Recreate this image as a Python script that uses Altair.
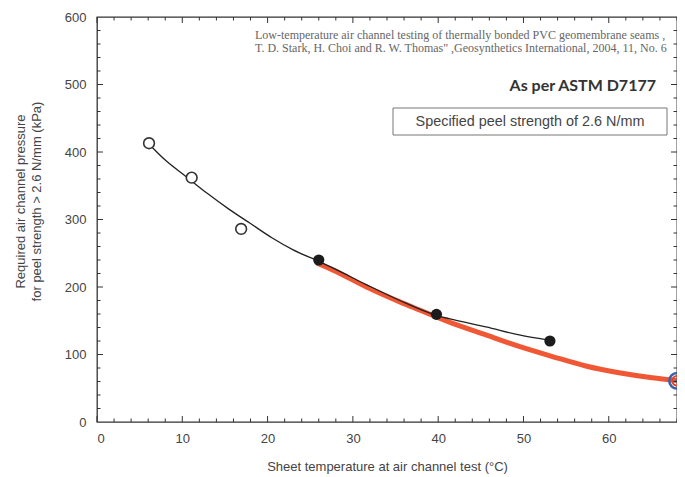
import altair as alt
import pandas as pd

# ---- data ----
open_x = [6.1, 11.1, 16.9]
open_y = [413, 362, 286]
filled_x = [26.0, 39.8, 53.1]
filled_y = [240, 159.5, 120]
astm_x = [68.0]
astm_y = [61]

black_x = [6, 8, 10.5, 13, 15.5, 18, 20.5, 23, 26, 28, 31.5, 35.5, 39.8, 42, 45.6, 49.5, 53.1]
black_y = [413, 388, 363, 338, 315, 294, 273, 255, 238, 226, 204, 180, 158, 151, 141, 129, 121]

red_x = [25.9, 27.7, 31.6, 35.5, 37.8, 41.7, 45.6, 49.5, 53.4, 57.3, 61.2, 65.1, 68.0]
red_y = [235, 225, 200, 178, 166, 146, 129, 112, 97, 83, 73, 65.6, 61.5]

x_major = [0, 10, 20, 30, 40, 50, 60]
x_minor = [v for v in range(0, 69, 2) if v % 10]
y_major = [100, 200, 300, 400, 500]
y_minor = [v for v in range(0, 601, 20) if v % 100]

x_title = "Sheet temperature at air channel test (°C)"
y_title = ["Required air channel pressure", "for peel strength > 2.6 N/mm (kPa)"]
cite_1 = "Low-temperature air channel testing of thermally bonded PVC geomembrane seams ,"
cite_2 = "T. D. Stark, H. Choi and R. W. Thomas\" ,Geosynthetics International, 2004, 11, No. 6"
astm_text = "As per ASTM D7177"
box_text = "Specified peel strength of 2.6 N/mm"

FONT = "Liberation Sans"
W, H = 580, 405
XS = alt.Scale(domain=[0, 68], nice=False, zero=False)
YS = alt.Scale(domain=[0, 600], nice=False, zero=False)

x_lab = alt.Axis(orient="bottom", title=x_title, values=x_major, ticks=False,
                 domain=False, grid=False, labelPadding=10, labelFont=FONT,
                 labelFontSize=13, labelColor="#444", titleFont=FONT,
                 titleFontSize=13, titleColor="#444", titleFontWeight="normal",
                 titleY=44, titleBaseline="middle")
y_lab = alt.Axis(orient="left", title=y_title, values=[0] + y_major + [600], ticks=False,
                 domain=False, grid=False, labelPadding=11, labelFont=FONT,
                 labelFontSize=13, labelColor="#444", titleFont=FONT,
                 titleFontSize=13, titleColor="#444", titleFontWeight="normal",
                 titleX=-76.5, titleY=184, titleBaseline="middle", titleAngle=270,
                 titleAlign="center", titleLineHeight=16)


def x_ticks(values, length, top):
    df = pd.DataFrame({"v": values})
    y0 = 0 if top else H
    y1 = length if top else H - length
    return alt.Chart(df).mark_rule(color="#333", strokeWidth=1).encode(
        x=alt.X("v:Q", scale=XS, axis=None), y=alt.value(y0), y2=alt.value(y1))


def y_ticks(values, length, right):
    df = pd.DataFrame({"v": values})
    x0 = W if right else 0
    x1 = W - length if right else length
    return alt.Chart(df).mark_rule(color="#333", strokeWidth=1).encode(
        y=alt.Y("v:Q", scale=YS, axis=None), x=alt.value(x0), x2=alt.value(x1))


red_df = pd.DataFrame({"t": red_x, "p": red_y})
black_df = pd.DataFrame({"t": black_x, "p": black_y})
open_df = pd.DataFrame({"t": open_x, "p": open_y})
filled_df = pd.DataFrame({"t": filled_x, "p": filled_y})
astm_df = pd.DataFrame({"t": astm_x, "p": astm_y})

red = alt.Chart(red_df).mark_line(color="#ef4e2a", strokeWidth=5, interpolate="monotone", strokeCap="round", opacity=0.95).encode(
    x=alt.X("t:Q", scale=XS, axis=x_lab),
    y=alt.Y("p:Q", scale=YS, axis=y_lab),
)
black = alt.Chart(black_df).mark_line(color="#222", strokeWidth=1.3, interpolate="monotone").encode(
    x=alt.X("t:Q", scale=XS, axis=None),
    y=alt.Y("p:Q", scale=YS, axis=None),
)
opens = alt.Chart(open_df).mark_point(shape="circle", size=115, filled=True, fill="white", stroke="#333", strokeWidth=1.6, opacity=1).encode(
    x=alt.X("t:Q", scale=XS, axis=None),
    y=alt.Y("p:Q", scale=YS, axis=None),
)
filled = alt.Chart(filled_df).mark_point(shape="circle", size=125, filled=True, color="#1c1c1c", opacity=1).encode(
    x=alt.X("t:Q", scale=XS, axis=None),
    y=alt.Y("p:Q", scale=YS, axis=None),
)
astm_outer = alt.Chart(astm_df).mark_point(shape="circle", size=240, filled=False, stroke="#3d5fa6", strokeWidth=2.5, opacity=1).encode(
    x=alt.X("t:Q", scale=XS, axis=None),
    y=alt.Y("p:Q", scale=YS, axis=None),
)
astm_inner = alt.Chart(astm_df).mark_point(shape="circle", size=90, filled=False, stroke="#d9452f", strokeWidth=2, opacity=1).encode(
    x=alt.X("t:Q", scale=XS, axis=None),
    y=alt.Y("p:Q", scale=YS, axis=None),
)
astm_cross = alt.Chart(astm_df).mark_point(shape="M-1,0L1,0M0,-1L0,1", size=30, filled=False, stroke="#6b5f80", strokeWidth=1.2, opacity=1).encode(
    x=alt.X("t:Q", scale=XS, axis=None),
    y=alt.Y("p:Q", scale=YS, axis=None),
)

cite1 = alt.Chart(pd.DataFrame({"s": [cite_1]})).mark_text(font="Liberation Serif", fontSize=12, color="#666", align="left", baseline="middle").encode(
    text="s:N", x=alt.value(158), y=alt.value(18))
cite2 = alt.Chart(pd.DataFrame({"s": [cite_2]})).mark_text(font="Liberation Serif", fontSize=12, color="#666", align="left", baseline="middle").encode(
    text="s:N", x=alt.value(158), y=alt.value(31))
astm_lbl = alt.Chart(pd.DataFrame({"s": [astm_text]})).mark_text(font="Lato", fontWeight="bold", fontSize=16, color="#333", align="right", baseline="middle").encode(
    text="s:N", x=alt.value(559), y=alt.value(69))
box_df = pd.DataFrame({"s": [box_text]})
box = alt.Chart(box_df).mark_rect(fill="white", stroke="#777", strokeWidth=1).encode(
    x=alt.value(296), x2=alt.value(570), y=alt.value(91), y2=alt.value(118))
box_lbl = alt.Chart(box_df).mark_text(font=FONT, fontSize=14.4, color="#444", align="center", baseline="middle").encode(
    text="s:N", x=alt.value(433), y=alt.value(105))

chart = alt.layer(
    red, black, opens, filled, astm_outer, astm_inner, astm_cross,
    x_ticks(x_major, 6, False), x_ticks(x_minor, 3.5, False),
    x_ticks(x_major, 6, True), x_ticks(x_minor, 3.5, True),
    y_ticks(y_major, 6, False), y_ticks(y_minor, 3.5, False),
    y_ticks(y_major, 6, True), y_ticks(y_minor, 3.5, True),
    cite1, cite2, astm_lbl, box, box_lbl
).resolve_axis(x="independent", y="independent").properties(
    width=W, height=H,
    autosize=alt.AutoSizeParams(type="none"),
    padding={"left": 89, "top": 9, "right": 0, "bottom": 53},
    background="white",
).configure_view(stroke="#333", strokeWidth=1.3)

chart.save("out.html", embed_options={"renderer": "svg", "actions": False})
